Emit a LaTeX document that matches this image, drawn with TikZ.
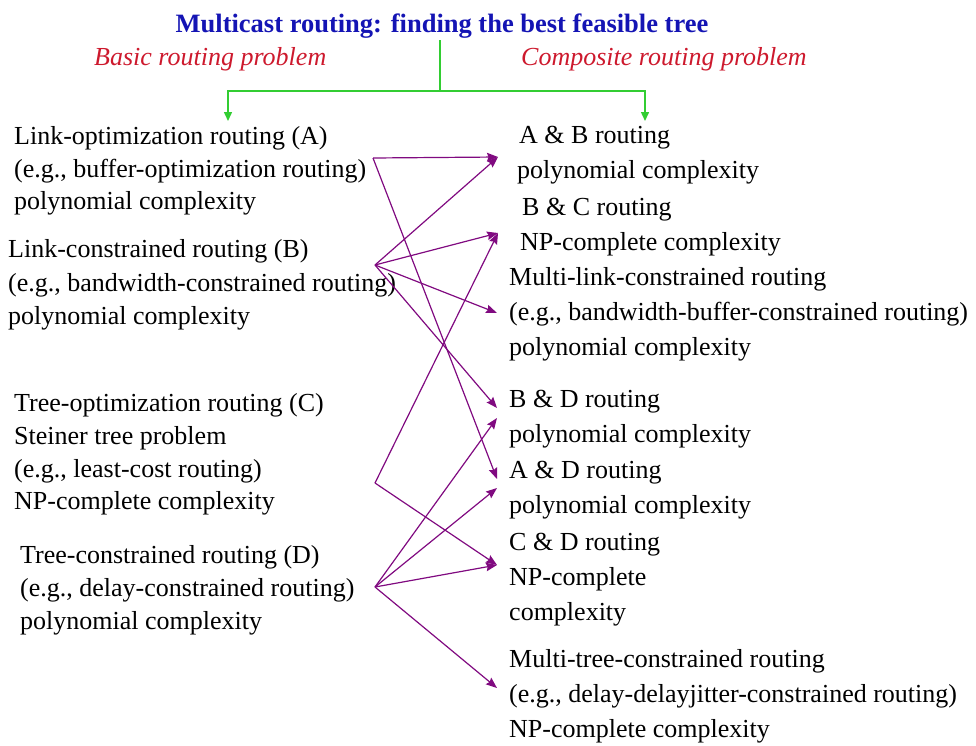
\documentclass[tikz,border=0pt]{standalone}
\usepackage{fontspec}
\setmainfont{Liberation Serif}
\usetikzlibrary{arrows.meta}
\definecolor{titleblue}{RGB}{20,20,180}
\definecolor{headred}{RGB}{205,25,45}
\definecolor{linkpurple}{RGB}{128,10,128}
\definecolor{splitgreen}{RGB}{50,205,50}

\begin{document}
\begin{tikzpicture}[x=1pt,y=-1pt,
  txt/.style={anchor=base west, inner sep=0pt, font=\fontsize{26}{32}\selectfont},
  maintitle/.style={anchor=base, inner sep=0pt, font=\fontsize{26.5}{32}\selectfont\bfseries, text=titleblue},
  head/.style={anchor=base west, inner sep=0pt, font=\fontsize{26}{32}\selectfont\itshape, text=headred},
  link/.style={draw=linkpurple, line width=1.2pt, -{Stealth[length=11pt,width=8.5pt,inset=1.5pt]}},
  split/.style={draw=splitgreen, line width=1.5pt},
]
\useasboundingbox (0,0) rectangle (976,745);

% heading and the two problem classes
\node[maintitle] (title) at (442,32) {Multicast routing: finding the best feasible tree};
\node[head] (basic) at (94,65) {Basic routing problem};
\node[head] (composite) at (521,65) {Composite routing problem};

% green fork
\coordinate (fork) at (440,91);
\coordinate (toBasic) at (228,121);
\coordinate (toComposite) at (645,121);
\draw[split] (fork |- title.south) ++(0,2) -- (fork);
\draw[split, -{Triangle[length=9pt,width=8pt]}] (fork) -| (toBasic);
\draw[split, -{Triangle[length=9pt,width=8pt]}] (fork) -| (toComposite);

% basic routing problems (left column)
\node[txt] (a1) at (14,144) {Link-optimization routing (A)};
\node[txt] (a2) at (14,177) {(e.g., buffer-optimization routing)};
\node[txt] (a3) at (14,209) {polynomial complexity};

\node[txt] (b1) at (8,257) {Link-constrained routing (B)};
\node[txt] (b2) at (8,291) {(e.g., bandwidth-constrained routing)};
\node[txt] (b3) at (8,324) {polynomial complexity};

\node[txt] (c1) at (14,411) {Tree-optimization routing (C)};
\node[txt] (c2) at (14,444) {Steiner tree problem};
\node[txt] (c3) at (14,477) {(e.g., least-cost routing)};
\node[txt] (c4) at (14,509) {NP-complete complexity};

\node[txt] (d1) at (20,563) {Tree-constrained routing (D)};
\node[txt] (d2) at (20,596) {(e.g., delay-constrained routing)};
\node[txt] (d3) at (20,629) {polynomial complexity};

% composite routing problems (right column)
\node[txt] (ab1) at (519,143) {A \& B routing};
\node[txt] (ab2) at (517,178) {polynomial complexity};
\node[txt] (bc1) at (522,215) {B \& C routing};
\node[txt] (bc2) at (520,250) {NP-complete complexity};
\node[txt] (ml1) at (509,285) {Multi-link-constrained routing};
\node[txt] (ml2) at (509,320) {(e.g., bandwidth-buffer-constrained routing)};
\node[txt] (ml3) at (509,355) {polynomial complexity};
\node[txt] (bd1) at (509,407) {B \& D routing};
\node[txt] (bd2) at (509,442) {polynomial complexity};
\node[txt] (ad1) at (509,478) {A \& D routing};
\node[txt] (ad2) at (509,513) {polynomial complexity};
\node[txt] (cd1) at (509,550) {C \& D routing};
\node[txt] (cd2) at (509,585) {NP-complete};
\node[txt] (cd3) at (509,620) {complexity};
\node[txt] (mt1) at (509,667) {Multi-tree-constrained routing};
\node[txt] (mt2) at (509,702) {(e.g., delay-delayjitter-constrained routing)};
\node[txt] (mt3) at (509,737) {NP-complete complexity};

% connector ports
\coordinate (pA) at (373,158);
\coordinate (pB) at (375,265);
\coordinate (pC) at (375,483);
\coordinate (pD) at (375,587);
\coordinate (tAB) at (498,157);
\coordinate (tBC) at (498,233);
\coordinate (tML) at (497,313);
\coordinate (tBDb) at (497,408);
\coordinate (tBDd) at (497,418);
\coordinate (tADa) at (497,479);
\coordinate (tADd) at (497,488);
\coordinate (tCD) at (497,565);
\coordinate (tMT) at (497,688);

% combinations
\draw[link] (pA) -- (tAB);
\draw[link] (pA) -- (tADa);
\draw[link] (pB) -- (tAB);
\draw[link] (pB) -- (tBC);
\draw[link] (pB) -- (tML);
\draw[link] (pB) -- (tBDb);
\draw[link] (pC) -- (tBC);
\draw[link] (pC) -- (tCD);
\draw[link] (pD) -- (tBDd);
\draw[link] (pD) -- (tADd);
\draw[link] (pD) -- (tCD);
\draw[link] (pD) -- (tMT);
\end{tikzpicture}
\end{document}
